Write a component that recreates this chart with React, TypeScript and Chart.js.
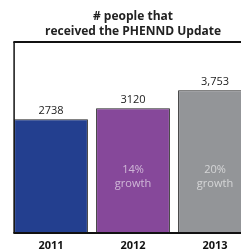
import React, { useEffect, useRef } from "react";
import { Chart, registerables } from "chart.js";

Chart.register(...registerables);

const categories = ["2011", "2012", "2013"];
const values = [2738, 3120, 3753];
const valueLabels = ["2738", "3120", "3,753"];
const growthLabels: string[][] = [[], ["14%", "growth"], ["20%", "growth"]];
const titleLines = ["# people that", "received the PHENND Update"];
const yMin = -1220;
const yMax = 5430;

const barColors = ["#233f8f", "#86489a", "#939598"];
const FONT = "'Open Sans', 'Liberation Sans', sans-serif";

const overlayPlugin = {
  id: "overlay",
  afterDatasetsDraw(chart: any) {
    const { ctx, chartArea } = chart;
    const meta = chart.getDatasetMeta(0);
    const first = meta.data[0] as any;
    const frameLeft = first.x - first.width / 2;
    ctx.save();
    ctx.strokeStyle = "#111";
    ctx.lineWidth = 1.5;
    ctx.beginPath();
    ctx.moveTo(frameLeft, chartArea.top);
    ctx.lineTo(frameLeft, chartArea.bottom);
    ctx.stroke();
    ctx.lineWidth = 2;
    ctx.beginPath();
    ctx.moveTo(frameLeft - 0.75, chartArea.top);
    ctx.lineTo(chart.width, chartArea.top);
    ctx.stroke();
    ctx.beginPath();
    ctx.moveTo(frameLeft - 0.75, chartArea.bottom);
    ctx.lineTo(chart.width, chartArea.bottom);
    ctx.stroke();

    ctx.textAlign = "center";
    ctx.textBaseline = "middle";
    meta.data.forEach((bar: any, i: number) => {
      ctx.fillStyle = "#222";
      ctx.font = `11px ${FONT}`;
      ctx.fillText(valueLabels[i], bar.x, bar.y - 8);
      ctx.fillStyle = "rgba(255,255,255,0.6)";
      growthLabels[i].forEach((t, j) => {
        ctx.fillText(t, bar.x, chartArea.top + 128 + j * 14);
      });
    });
    ctx.restore();
  },
};

export default function App() {
  const ref = useRef<HTMLCanvasElement>(null);
  useEffect(() => {
    document.body.style.margin = "0";
    document.body.style.overflow = "hidden";
    const chart = new Chart(ref.current!, {
      type: "bar",
      data: {
        labels: categories,
        datasets: [
          {
            data: values,
            backgroundColor: barColors,
            borderColor: "#222",
            borderWidth: 1,
            base: yMin,
            categoryPercentage: 1,
            barPercentage: 0.9,
          } as any,
        ],
      },
      options: {
        responsive: false,
        animation: false,
        layout: { padding: { left: 10, right: 0, top: 2, bottom: 0 } },
        plugins: {
          legend: { display: false },
          tooltip: { enabled: false },
          title: {
            display: true,
            text: titleLines,
            color: "#222",
            font: { family: FONT, size: 12, weight: "bold", lineHeight: 1.25 },
            padding: { top: 7, bottom: 3 },
          },
        },
        scales: {
          x: {
            grid: { display: false, drawTicks: false },
            border: { display: false },
            ticks: {
              color: "#111",
              padding: 6,
              font: { family: FONT, size: 11, weight: "bold" },
            },
            afterFit: (s: any) => {
              s.height = 19;
            },
          },
          y: {
            display: false,
            min: yMin,
            max: yMax,
          },
        },
      },
      plugins: [overlayPlugin],
    });
    return () => chart.destroy();
  }, []);
  return (
    <div style={{ width: 241, height: 252, overflow: "hidden" }}>
      <canvas ref={ref} width={256} height={252} style={{ display: "block" }} />
    </div>
  );
}
